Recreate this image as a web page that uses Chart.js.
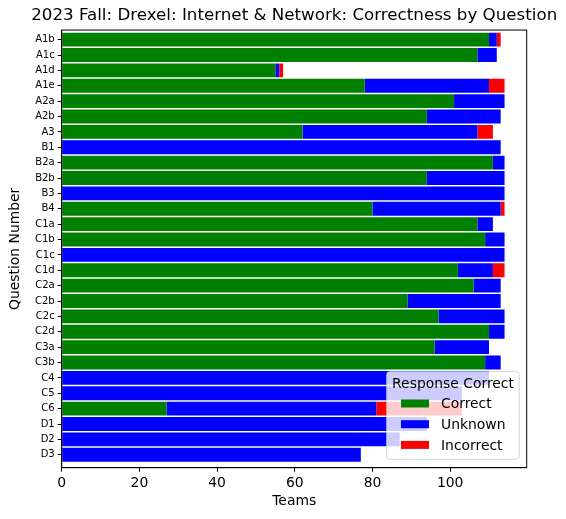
<!DOCTYPE html>
<html>
<head>
<meta charset="utf-8">
<script src="https://cdn.jsdelivr.net/npm/chart.js@4.4.0/dist/chart.umd.min.js"></script>
<style>
  html, body { margin: 0; padding: 0; background: #fff; }
  #wrap { width: 566px; height: 519px; }
</style>
</head>
<body>
<div id="wrap"><canvas id="chart"></canvas></div>
<script>
// question labels, top to bottom
const questions = ['A1b','A1c','A1d','A1e','A2a','A2b','A3','B1','B2a','B2b','B3','B4','C1a','C1b','C1c','C1d','C2a','C2b','C2c','C2d','C3a','C3b','C4','C5','C6','D1','D2','D3'];
// teams per response type
const correct =   [110,107,55,78,101,94,62,0,111,94,0,80,107,109,0,102,106,89,97,110,96,109,0,0,27,0,0,0];
const unknown =   [2,5,1,32,13,19,45,113,3,20,114,33,4,5,114,9,7,24,17,4,14,4,110,103,54,94,87,77];
const incorrect = [1,0,1,4,0,0,4,0,0,0,0,1,0,0,0,3,0,0,0,0,0,0,0,0,22,0,0,0];
const xTicks = [0,20,40,60,80,100];

const FONT = '"DejaVu Sans", sans-serif';

const toPoints = (arr) => arr.map((v, i) => ({ x: v, y: i }));

// centre the title over the plot without squeezing it
const titleSpan = {
  id: 'titleSpan',
  afterLayout(chart) {
    const t = chart.titleBlock;
    const mid = (chart.chartArea.left + chart.chartArea.right) / 2;
    t.left = mid - 280;
    t.right = mid + 280;
    t.width = 560;
  }
};

// box round the plot, like matplotlib spines
const frame = {
  id: 'frame',
  afterDatasetsDraw(chart) {
    const { ctx, chartArea: a } = chart;
    ctx.save();
    ctx.strokeStyle = '#000';
    ctx.lineWidth = 1;
    ctx.strokeRect(a.left, a.top, a.right - a.left, a.bottom - a.top);
    ctx.restore();
  }
};

// legend in the lower right corner of the plot
const legendBox = {
  id: 'legendBox',
  afterDatasetsDraw(chart) {
    const { ctx, chartArea: a } = chart;
    const w = 132.6, h = 87.6;
    const x = a.right - 7.4 - w, y = a.bottom - 8.4 - h;
    ctx.save();
    ctx.beginPath();
    ctx.roundRect(x, y, w, h, 3);
    ctx.fillStyle = 'rgba(255,255,255,0.8)';
    ctx.fill();
    ctx.strokeStyle = 'rgba(204,204,204,0.8)';
    ctx.lineWidth = 1;
    ctx.stroke();
    ctx.font = '13.9px ' + FONT;
    ctx.fillStyle = '#000';
    ctx.textAlign = 'center';
    ctx.textBaseline = 'alphabetic';
    ctx.fillText('Response Correct', x + w / 2, y + 16.3);
    ctx.textAlign = 'left';
    ctx.textBaseline = 'middle';
    chart.data.datasets.forEach((ds, i) => {
      const cy = y + 31.8 + i * 20.7;
      ctx.fillStyle = ds.backgroundColor;
      ctx.fillRect(x + 14.3, cy - 4, 28, 8);
      ctx.fillStyle = '#000';
      ctx.fillText(ds.label, x + 54.3, cy + 1);
    });
    ctx.restore();
  }
};

new Chart(document.getElementById('chart'), {
  type: 'bar',
  data: {
    datasets: [
      { label: 'Correct', data: toPoints(correct), backgroundColor: '#008000', stack: 's' },
      { label: 'Unknown', data: toPoints(unknown), backgroundColor: '#0000ff', stack: 's' },
      { label: 'Incorrect', data: toPoints(incorrect), backgroundColor: '#ff0000', stack: 's' }
    ]
  },
  options: {
    indexAxis: 'y',
    responsive: true,
    maintainAspectRatio: false,
    animation: false,
    datasets: {
      bar: { barPercentage: 0.9, categoryPercentage: 1.0, borderWidth: 0 }
    },
    layout: { padding: { left: 0, right: 39.3, top: 0, bottom: 0 } },
    plugins: {
      legend: { display: false },
      tooltip: { enabled: false },
      title: {
        display: true,
        text: '2023 Fall: Drexel: Internet & Network: Correctness by Question',
        color: '#000',
        font: { family: FONT, size: 16.7, weight: 'normal' },
        padding: { top: 6, bottom: 4 }
      }
    },
    scales: {
      x: {
        type: 'linear',
        stacked: true,
        min: 0,
        max: 119.7,
        afterBuildTicks: (s) => { s.ticks = xTicks.map(v => ({ value: v })); },
        afterFit: (s) => { s.height = 51.3; s.paddingLeft = 0; s.paddingRight = 0; },
        grid: { drawOnChartArea: false, tickLength: 4, tickColor: '#000' },
        border: { color: '#000', width: 1 },
        ticks: { color: '#000', padding: 3, maxRotation: 0, font: { family: FONT, size: 13.9 } },
        title: {
          display: true, text: 'Teams', color: '#000',
          font: { family: FONT, size: 13.9 },
          padding: { top: 0, bottom: 9 }
        }
      },
      y: {
        type: 'linear',
        reverse: true,
        offset: false,
        min: -0.626,
        max: 27.84,
        afterBuildTicks: (s) => { s.ticks = questions.map((q, i) => ({ value: i })); },
        afterFit: (s) => { s.width = 61.7; s.paddingTop = 0; s.paddingBottom = 0; },
        grid: { offset: false, drawOnChartArea: false, tickLength: 4, tickColor: '#000' },
        border: { color: '#000', width: 1 },
        ticks: {
          color: '#000', padding: 3, autoSkip: false,
          font: { family: FONT, size: 10 },
          callback: (v) => questions[v]
        },
        title: {
          display: true, text: 'Question Number', color: '#000',
          font: { family: FONT, size: 13.9 },
          padding: { top: 6.7, bottom: 0 }
        }
      }
    }
  },
  plugins: [titleSpan, frame, legendBox]
});
</script>
</body>
</html>
